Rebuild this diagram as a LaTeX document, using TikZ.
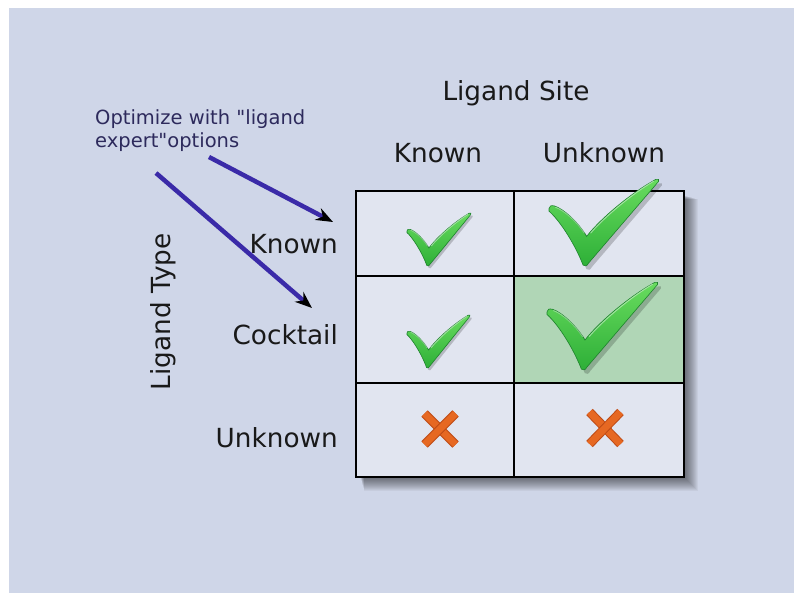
\documentclass[tikz,border=0pt]{standalone}
\usepackage{fontspec}
\setmainfont{DejaVu Sans}[Ligatures=TeXOff]
\usetikzlibrary{arrows.meta}
\definecolor{bgc}{RGB}{207,214,232}
\definecolor{cellc}{RGB}{225,229,240}
\definecolor{greencell}{RGB}{176,214,182}
\definecolor{txt}{RGB}{25,25,25}
\definecolor{notec}{RGB}{45,42,92}
\definecolor{arrowc}{RGB}{58,42,168}
\definecolor{tickhi}{RGB}{105,220,95}
\definecolor{ticklo}{RGB}{45,175,55}
\definecolor{tickdark}{RGB}{30,130,45}
\definecolor{xorange}{RGB}{230,104,34}
\definecolor{xdark}{RGB}{190,75,22}
\tikzset{
  lab/.style={font=\fontsize{26.3}{31}\selectfont, text=txt, inner sep=0pt},
  note/.style={font=\fontsize{19.5}{23}\selectfont, text=notec, inner sep=0pt},
  cell/.style={draw=black, line width=2.2pt, fill=cellc, inner sep=0pt, outer sep=0pt, anchor=north west},
  pointer/.style={draw=arrowc, line width=4.5pt, -{Stealth[length=17pt,width=13pt,color=black]}},
  tick/.pic={
    \begin{scope}[shift={(0.03,-0.045)}]
      \fill[black,opacity=0.2] (0,0.66) .. controls (0,0.69) and (0.02,0.70) .. (0.05,0.69) .. controls (0.13,0.66) and (0.27,0.5) .. (0.342,0.34) .. controls (0.45,0.52) and (0.72,0.82) .. (0.97,0.995) .. controls (0.99,1.01) and (1.01,0.99) .. (0.995,0.97) .. controls (0.783,0.658) and (0.572,0.346) .. (0.36,0.034) .. controls (0.345,0.0) and (0.33,-0.01) .. (0.31,0.01) .. controls (0.22,0.3) and (0.07,0.56) .. (0,0.63) -- cycle;
    \end{scope}
    \shadedraw[draw=tickdark, line width=0.6pt, top color=tickhi, bottom color=ticklo] (0,0.66) .. controls (0,0.69) and (0.02,0.70) .. (0.05,0.69) .. controls (0.13,0.66) and (0.27,0.5) .. (0.342,0.34) .. controls (0.45,0.52) and (0.72,0.82) .. (0.97,0.995) .. controls (0.99,1.01) and (1.01,0.99) .. (0.995,0.97) .. controls (0.783,0.658) and (0.572,0.346) .. (0.36,0.034) .. controls (0.345,0.0) and (0.33,-0.01) .. (0.31,0.01) .. controls (0.22,0.3) and (0.07,0.56) .. (0,0.63) -- cycle;
    \draw[white, opacity=0.45, line width=1pt, line cap=round] (0.38,0.38) .. controls (0.48,0.53) and (0.72,0.80) .. (0.95,0.975);
    \draw[white, opacity=0.35, line width=1pt, line cap=round] (0.06,0.675) .. controls (0.14,0.64) and (0.26,0.5) .. (0.32,0.38);
  },
  xmark/.pic={
    \draw[xdark, line width=9pt] (-0.5,0.5) -- (0.5,-0.5);
    \draw[xorange, line width=7pt] (-0.5,0.5) -- (0.5,-0.5);
    \draw[xdark, line width=9pt] (-0.5,-0.5) -- (0.5,0.5);
    \draw[xorange, line width=7pt] (-0.5,-0.5) -- (0.5,0.5);
  }
}
\begin{document}
\begin{tikzpicture}[x=1pt,y=-1pt]
\useasboundingbox (0,0) rectangle (795,594);
\fill[white] (0,0) rectangle (795,594);
\fill[bgc] (9,8) rectangle (794,593);

% table shadow
\foreach \d in {1,...,14} {
  \fill[black, opacity=0.045] (360+0.3*\d,195+0.3*\d) rectangle (684+\d,477+\d);
}

% cells
\node[cell, minimum width=158pt, minimum height=85pt] (c11) at (356,191) {};
\node[cell, minimum width=170pt, minimum height=85pt] (c12) at (514,191) {};
\node[cell, minimum width=158pt, minimum height=107pt] (c21) at (356,276) {};
\node[cell, minimum width=170pt, minimum height=107pt, fill=greencell] (c22) at (514,276) {};
\node[cell, minimum width=158pt, minimum height=94pt] (c31) at (356,383) {};
\node[cell, minimum width=170pt, minimum height=94pt] (c32) at (514,383) {};
\draw[line width=2.6pt] (c11.north west) rectangle (c32.south east);

% ticks
\begin{scope}[shift={(407,266)}, x=64pt, y=53pt] \pic {tick}; \end{scope}
\begin{scope}[shift={(407,368)}, x=63pt, y=53pt] \pic {tick}; \end{scope}
\begin{scope}[shift={(549,266)}, x=110pt, y=87pt] \pic {tick}; \end{scope}
\begin{scope}[shift={(547,370)}, x=111pt, y=88pt] \pic {tick}; \end{scope}

% crosses
\begin{scope}[shift={(440,429)}, x=31pt, y=31pt] \pic {xmark}; \end{scope}
\begin{scope}[shift={(605,428)}, x=31pt, y=32pt] \pic {xmark}; \end{scope}

% labels
\node[lab, anchor=base] (site) at (516,100) {Ligand Site};
\node[lab, anchor=base] (colk) at (438,162) {Known};
\node[lab, anchor=base] (colu) at (604,162) {Unknown};
\node[lab, anchor=base east] (rowk) at (338,253) {Known};
\node[lab, anchor=base east] (rowc) at (338,344) {Cocktail};
\node[lab, anchor=base east] (rowu) at (338,447) {Unknown};
\node[lab, rotate=90] (type) at (163,312) {Ligand Type};

\node[note, anchor=base west] (opt1) at (95,124) {Optimize with "ligand};
\node[note, anchor=base west] (opt2) at (95,147) {expert"options};

% pointers
\coordinate (a1s) at (209,157);
\coordinate (a1e) at (333,222);
\coordinate (a2s) at (156,173);
\coordinate (a2e) at (312,308);
\draw[pointer] (a1s) -- (a1e);
\draw[pointer] (a2s) -- (a2e);
\end{tikzpicture}
\end{document}
